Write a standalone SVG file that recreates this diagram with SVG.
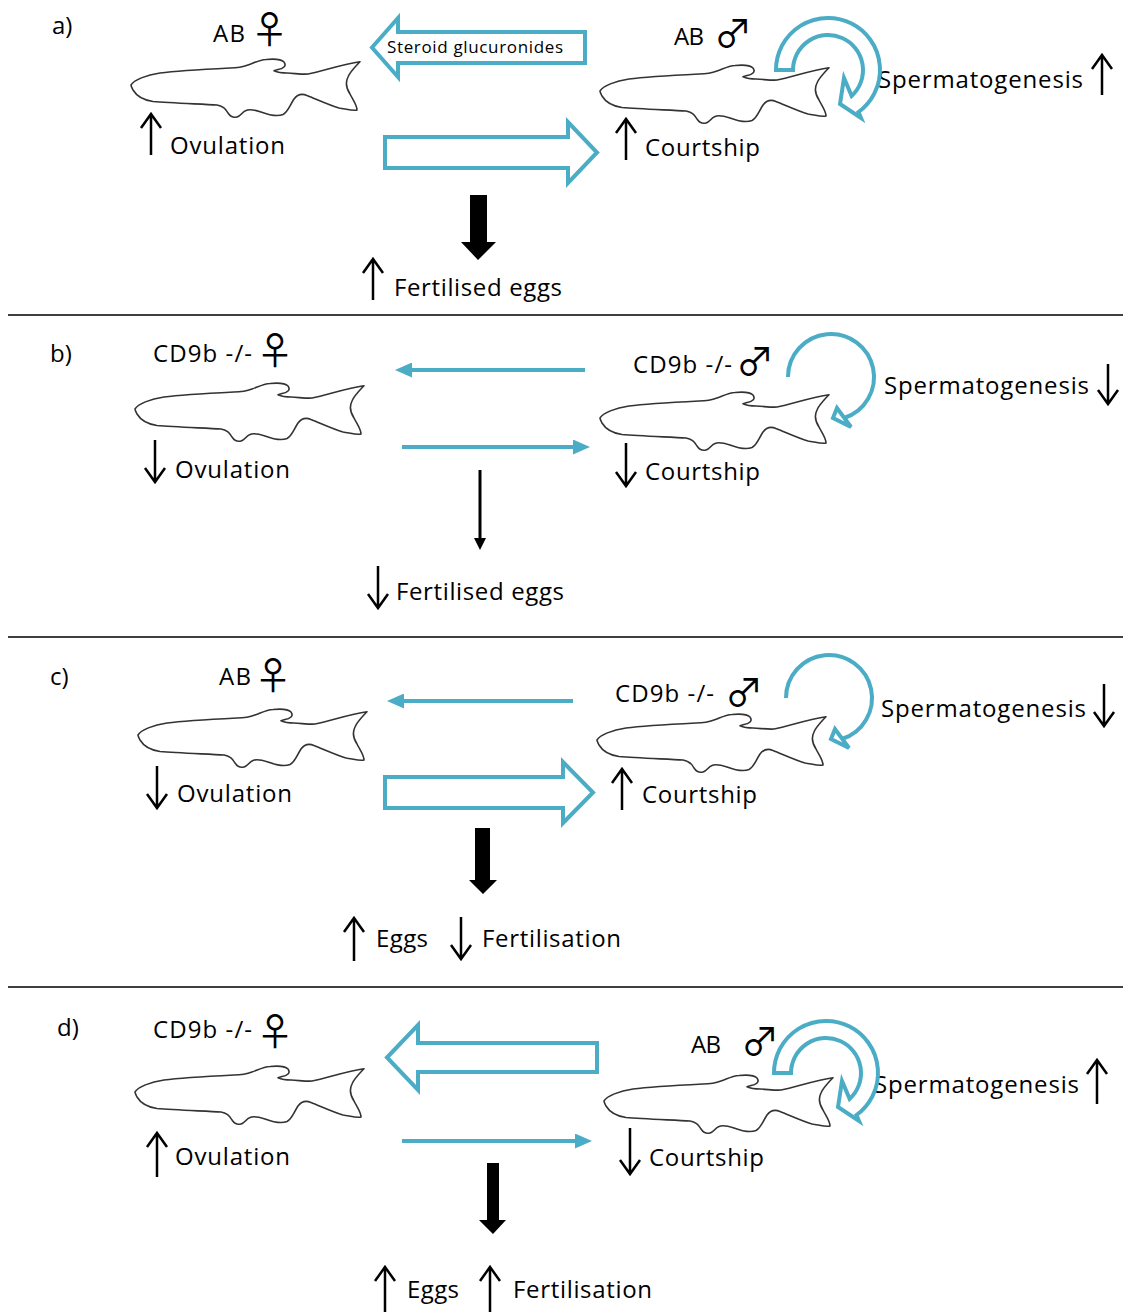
<svg xmlns="http://www.w3.org/2000/svg" xmlns:xlink="http://www.w3.org/1999/xlink" width="1127" height="1312" viewBox="0 0 1127 1312">
  <style>
    .t { font-family: "Open Sans", "Liberation Sans", sans-serif; font-size: 24px; fill: #000; }
    .small { font-size: 17px; }
    .sym { font-family: "Noto Sans CJK JP", "DejaVu Sans", sans-serif; font-size: 38px; font-weight: 400; fill: #000; text-anchor: middle; }
    .fish { fill: none; stroke: #333; stroke-width: 1.6; stroke-linejoin: round; }
    .blue { fill: none; stroke: #4bacc6; stroke-width: 4; }
    .hollow { fill: #fff; stroke: #4bacc6; stroke-width: 4; stroke-linejoin: miter; }
    .ud { fill: none; stroke: #000; stroke-width: 2.5; stroke-linejoin: miter; }
    .thick { fill: #000; stroke: none; }
    .sep { stroke: #000; stroke-width: 1.5; }
  </style>
  <defs>
    <!-- fish outline, origin at the snout -->
    <path id="fish" class="fish" d="M0,0 C3,-5 15,-10 29,-12 C45,-14 80,-16 99,-17 C108,-17 112,-18 117,-20 C123,-22 128,-25 135,-25.5 C145,-26.5 150,-26 153,-23 C156,-19 152,-16 147,-15.5 L143,-14.3 C147,-12.5 150,-12 156,-12 C165,-11.5 172,-10.5 177,-11 C192,-14 212,-21 229,-23.3 C224,-18 219,-13 217,-8 C214,-2 215,3 219,9 C222,15 226,20 226,25 C222,26 215,24 208,23 C198,20 185,14 176,10.5 C170,8 166,10 163,14 C159,20 157,27 152,29.5 C146,32 138,30 130,27 C124,25 118,24 115,25.5 C111,27 110,31 106,32 C102,33 99,31 97,28 C95,24 92,21 86,20 C70,19 40,18 22,16.5 C12,15 5,10 2,5 C1,3 0,1 0,0 Z"/>
    <!-- wide hollow self-loop, origin at the loop centre -->
    <path id="loopThick" class="hollow" d="M-52,0 A52,52 0 1 1 30.5,42 L33,48 L12,34 L16,8 L23.6,25.9 A35,35 0 1 0 -35,0 Z"/>
    <!-- thin self-loop with open head, origin at the loop centre -->
    <g id="loopThin">
      <path class="blue" d="M-43,0 A43,43 0 1 1 13,41"/>
      <polygon class="hollow" stroke-width="3.5" points="6,31 2,41 20,50"/>
    </g>
    <marker id="headBlue" markerUnits="userSpaceOnUse" markerWidth="17" markerHeight="15" refX="9" refY="7.5" orient="auto">
      <path d="M0,0 L17,7.5 L0,15 Z" fill="#4bacc6"/>
    </marker>
    <marker id="headBlack" markerUnits="userSpaceOnUse" markerWidth="12" markerHeight="12" refX="5" refY="6" orient="auto">
      <path d="M0,0 L12,6 L0,12 Z" fill="#000"/>
    </marker>
  </defs>

  <rect width="1127" height="1312" fill="#fff"/>

  <!-- panel separators -->
  <g id="separators">
    <line class="sep" x1="8" y1="315" x2="1123" y2="315"/>
    <line class="sep" x1="8" y1="637" x2="1123" y2="637"/>
    <line class="sep" x1="8" y1="987" x2="1123" y2="987"/>
  </g>

  <!-- panel letters -->
  <g id="panel-labels">
    <text class="t" x="52" y="34">a)</text>
    <text class="t" x="50" y="362">b)</text>
    <text class="t" x="50" y="685">c)</text>
    <text class="t" x="57" y="1036">d)</text>
  </g>

  <!-- ===== a) ===== -->
  <g id="a-female">
    <use xlink:href="#fish" x="131" y="85"/>
    <text class="t" x="213" y="42" textLength="32">AB</text>
    <text class="sym" x="269.5" y="43">♀</text>
    <path class="ud" d="M151,155 V114 M141,128 L151,114 L161,128"/>
    <text class="t" x="170" y="154" textLength="115">Ovulation</text>
  </g>
  <g id="a-male">
    <use xlink:href="#fish" x="600" y="91"/>
    <text class="t" x="674" y="45" textLength="30">AB</text>
    <text class="sym" x="733" y="47">♂</text>
    <path class="ud" d="M626,160 V119 M616,133 L626,119 L636,133"/>
    <text class="t" x="645" y="156" textLength="115">Courtship</text>
    <text class="t" x="878" y="88" textLength="205">Spermatogenesis</text>
    <path class="ud" d="M1102,95 V55 M1092,69 L1102,55 L1112,69"/>
  </g>
  <g id="a-outcome">
    <path class="ud" d="M373,300 V259 M363,273 L373,259 L383,273"/>
    <text class="t" x="394" y="296" textLength="168">Fertilised eggs</text>
  </g>

  <!-- ===== b) ===== -->
  <g id="b-female">
    <use xlink:href="#fish" x="135" y="409"/>
    <text class="t" x="153" y="362" textLength="99">CD9b -/-</text>
    <text class="sym" x="275" y="364">♀</text>
    <path class="ud" d="M155,440 V482 M145,468 L155,482 L165,468"/>
    <text class="t" x="175" y="478" textLength="115">Ovulation</text>
  </g>
  <g id="b-male">
    <use xlink:href="#fish" x="600" y="418"/>
    <text class="t" x="633" y="373" textLength="99">CD9b -/-</text>
    <text class="sym" x="755" y="375">♂</text>
    <path class="ud" d="M626,443 V486 M616,472 L626,486 L636,472"/>
    <text class="t" x="645" y="480" textLength="115">Courtship</text>
    <text class="t" x="884" y="394" textLength="205">Spermatogenesis</text>
    <path class="ud" d="M1108,364 V404 M1098,390 L1108,404 L1118,390"/>
  </g>
  <g id="b-outcome">
    <path class="ud" d="M378,566 V608 M368,594 L378,608 L388,594"/>
    <text class="t" x="396" y="600" textLength="168">Fertilised eggs</text>
  </g>

  <!-- ===== c) ===== -->
  <g id="c-female">
    <use xlink:href="#fish" x="138" y="735"/>
    <text class="t" x="219" y="685" textLength="32">AB</text>
    <text class="sym" x="273" y="689">♀</text>
    <path class="ud" d="M157,766 V808 M147,794 L157,808 L167,794"/>
    <text class="t" x="177" y="802" textLength="115">Ovulation</text>
  </g>
  <g id="c-male">
    <use xlink:href="#fish" x="597" y="740"/>
    <text class="t" x="615" y="702" textLength="99">CD9b -/-</text>
    <text class="sym" x="744" y="706">♂</text>
    <path class="ud" d="M622,810 V769 M612,783 L622,769 L632,783"/>
    <text class="t" x="642" y="803" textLength="115">Courtship</text>
    <text class="t" x="881" y="717" textLength="205">Spermatogenesis</text>
    <path class="ud" d="M1104,684 V726 M1094,712 L1104,726 L1114,712"/>
  </g>
  <g id="c-outcome">
    <path class="ud" d="M354,961 V918 M344,932 L354,918 L364,932"/>
    <text class="t" x="376" y="947" textLength="52">Eggs</text>
    <path class="ud" d="M461,917 V959 M451,945 L461,959 L471,945"/>
    <text class="t" x="482" y="947" textLength="139">Fertilisation</text>
  </g>

  <!-- ===== d) ===== -->
  <g id="d-female">
    <use xlink:href="#fish" x="135" y="1092"/>
    <text class="t" x="153" y="1038" textLength="99">CD9b -/-</text>
    <text class="sym" x="275" y="1045">♀</text>
    <path class="ud" d="M157,1177 V1133 M147,1147 L157,1133 L167,1147"/>
    <text class="t" x="175" y="1165" textLength="115">Ovulation</text>
  </g>
  <g id="d-male">
    <use xlink:href="#fish" x="604" y="1101"/>
    <text class="t" x="691" y="1053" textLength="30">AB</text>
    <text class="sym" x="760" y="1055">♂</text>
    <path class="ud" d="M630,1128 V1174 M620,1160 L630,1174 L640,1160"/>
    <text class="t" x="649" y="1166" textLength="115">Courtship</text>
    <text class="t" x="874" y="1093" textLength="205">Spermatogenesis</text>
    <path class="ud" d="M1097,1104 V1060 M1087,1074 L1097,1060 L1107,1074"/>
  </g>
  <g id="d-outcome">
    <path class="ud" d="M385,1312 V1267 M375,1281 L385,1267 L395,1281"/>
    <text class="t" x="407" y="1298" textLength="52">Eggs</text>
    <path class="ud" d="M490,1312 V1267 M480,1281 L490,1267 L500,1281"/>
    <text class="t" x="513" y="1298" textLength="139">Fertilisation</text>
  </g>

  <!-- connectors -->
  <g id="connectors">
    <!-- a) -->
    <polygon class="hollow" points="372,47.5 398,18 398,32 585,32 585,63 398,63 398,77"/>
    <text class="t small" x="387" y="53" textLength="176">Steroid glucuronides</text>
    <polygon class="hollow" points="385,137 568,137 568,122 597,152.5 568,183 568,168 385,168"/>
    <use xlink:href="#loopThick" x="828" y="70"/>
    <polygon class="thick" points="470,195 487,195 487,242 496,242 478,260 461,242 470,242"/>

    <!-- b) -->
    <line class="blue" x1="585" y1="370" x2="403" y2="370" marker-end="url(#headBlue)"/>
    <line class="blue" x1="402" y1="447" x2="582" y2="447" marker-end="url(#headBlue)"/>
    <use xlink:href="#loopThin" x="831" y="377"/>
    <line x1="480" y1="470" x2="553" y2="470" stroke="#000" stroke-width="3" transform="rotate(90 480 470)" marker-end="url(#headBlack)"/>

    <!-- c) -->
    <line class="blue" x1="573" y1="701" x2="395" y2="701" marker-end="url(#headBlue)"/>
    <polygon class="hollow" points="385,777 563,777 563,762 593,792.5 563,823 563,808 385,808"/>
    <use xlink:href="#loopThin" x="829" y="698"/>
    <polygon class="thick" points="475,828 490,828 490,880 497,880 483,894 469,880 475,880"/>

    <!-- d) -->
    <polygon class="hollow" points="387,1057.5 418,1025 418,1043 597,1043 597,1072 418,1072 418,1090"/>
    <line class="blue" x1="402" y1="1141" x2="584" y2="1141" marker-end="url(#headBlue)"/>
    <use xlink:href="#loopThick" x="826" y="1073"/>
    <polygon class="thick" points="487,1163 499,1163 499,1220 506,1220 493,1234 479,1220 487,1220"/>
  </g>
</svg>
